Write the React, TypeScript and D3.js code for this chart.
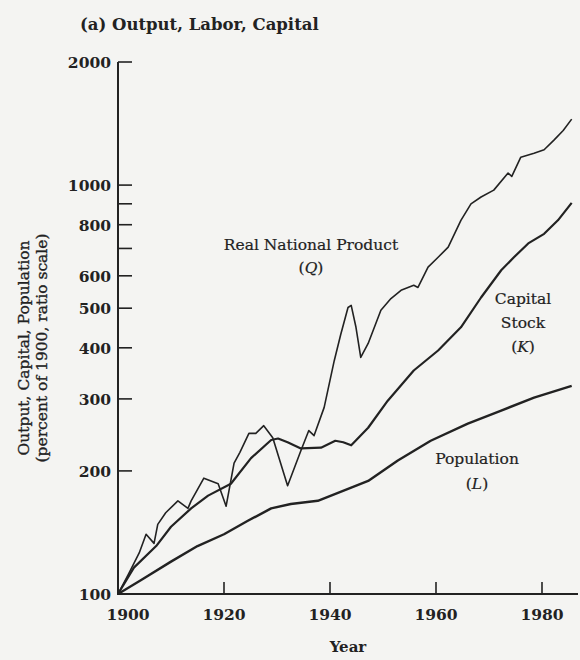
import * as d3 from "d3";
import { useEffect, useRef } from "react";

type Pt = [number, number];

// Real National Product (Q), percent of 1900
const qYears = [1900, 1902, 1904, 1905.3, 1906.8, 1907.5, 1909, 1911.3, 1913.2, 1913.8, 1916.2, 1918.9, 1920.4, 1921.9, 1923, 1924.7, 1926, 1927.5, 1929.2, 1932, 1934.5, 1936, 1937, 1938.9, 1940.8, 1942, 1943.4, 1944, 1944.9, 1945.8, 1947.2, 1949.6, 1951.5, 1953.4, 1955.8, 1956.6, 1958.5, 1960.4, 1962.3, 1964.7, 1966.6, 1968.5, 1970.9, 1973.6, 1974.3, 1976, 1978.5, 1980.4, 1982.3, 1984, 1985.6];
const qValues = [100, 112, 126, 140, 133, 148, 158, 169, 162, 169, 192, 186, 164, 209, 222, 247, 247, 258, 241, 184, 224, 251, 244, 286, 372, 430, 502, 508, 449, 379, 410, 494, 528, 553, 569, 562, 630, 666, 705, 820, 900, 935, 972, 1070, 1050, 1170, 1196, 1220, 1290, 1360, 1450];

// Capital Stock (K)
const kYears = [1900, 1903, 1907.2, 1910, 1913.8, 1917, 1921.3, 1925.1, 1928.9, 1930.2, 1932, 1934.5, 1938.3, 1941, 1942.5, 1944, 1947.2, 1950.9, 1955.8, 1960.4, 1964.7, 1968.5, 1972.3, 1974.7, 1977.4, 1980.4, 1983, 1985.6];
const kValues = [100, 116, 131, 146, 162, 174, 186, 215, 238, 240, 235, 227, 228, 237, 235, 231, 255, 297, 352, 394, 449, 531, 619, 666, 720, 760, 820, 905];

// Population (L)
const lYears = [1900, 1904.3, 1910, 1915, 1920, 1924.5, 1928.9, 1932.6, 1937.7, 1944, 1947.2, 1952.8, 1959, 1966, 1972.3, 1978.5, 1985.6];
const lValues = [100, 108, 120, 131, 140, 151, 162, 166, 169, 182, 189, 212, 237, 261, 281, 302, 323];

const yTickValues = [200, 300, 400, 500, 600, 700, 800, 900, 1000, 2000];
const yTickLabels = [100, 200, 300, 400, 500, 600, 800, 1000, 2000];
const xTickValues = [1920, 1940, 1960, 1980];
const xTickLabels = [1900, 1920, 1940, 1960, 1980];

const W = 580;
const H = 660;
const ink = "#222";
const serif = "'DejaVu Serif', 'Liberation Serif', serif";

const zip = (xs: number[], ys: number[]): Pt[] => xs.map((x, i) => [x, ys[i]]);

export default function App() {
  const ref = useRef<SVGSVGElement>(null);

  useEffect(() => {
    if (!ref.current) return;
    const svg = d3.select(ref.current);
    svg.selectAll("*").remove();

    const x = d3.scaleLinear().domain([1900, 1980]).range([118, 542]);
    const y = d3.scaleLog().domain([100, 2000]).range([594, 62]);

    svg.append("rect").attr("width", W).attr("height", H).attr("fill", "#f4f4f2");

    // title
    svg
      .append("text")
      .attr("x", 80)
      .attr("y", 30)
      .attr("font-family", serif)
      .attr("font-size", 16.5)
      .attr("font-weight", "bold")
      .attr("fill", ink)
      .text("(a)  Output, Labor, Capital");

    const axes = svg.append("g").attr("stroke", ink).attr("fill", "none");
    axes.append("line").attr("x1", 118).attr("x2", 118).attr("y1", y(2000)).attr("y2", 595).attr("stroke-width", 2);
    axes.append("line").attr("x1", 117).attr("x2", 578).attr("y1", 594).attr("y2", 594).attr("stroke-width", 2);

    // y ticks (inward)
    axes
      .selectAll(".yt")
      .data(yTickValues)
      .enter()
      .append("line")
      .attr("x1", 118)
      .attr("x2", 132)
      .attr("y1", (d) => y(d))
      .attr("y2", (d) => y(d))
      .attr("stroke-width", 1.6);

    svg
      .selectAll(".yl")
      .data(yTickLabels)
      .enter()
      .append("text")
      .attr("x", 111)
      .attr("y", (d) => y(d) + 6)
      .attr("text-anchor", "end")
      .attr("font-family", serif)
      .attr("font-size", 15.5)
      .attr("font-weight", "bold")
      .attr("fill", ink)
      .text((d) => d);

    // x ticks (inward)
    axes
      .selectAll(".xt")
      .data(xTickValues)
      .enter()
      .append("line")
      .attr("x1", (d) => x(d))
      .attr("x2", (d) => x(d))
      .attr("y1", 594)
      .attr("y2", 582)
      .attr("stroke-width", 1.6);

    svg
      .selectAll(".xl")
      .data(xTickLabels)
      .enter()
      .append("text")
      .attr("x", (d) => x(d) + (d === 1900 ? 10 : 0))
      .attr("y", 620)
      .attr("text-anchor", "middle")
      .attr("font-family", serif)
      .attr("font-size", 15.5)
      .attr("font-weight", "bold")
      .attr("fill", ink)
      .text((d) => d);

    svg
      .append("text")
      .attr("x", 348)
      .attr("y", 652)
      .attr("text-anchor", "middle")
      .attr("font-family", serif)
      .attr("font-size", 15)
      .attr("font-weight", "bold")
      .attr("fill", ink)
      .text("Year");

    const yTitle = svg
      .append("text")
      .attr("transform", "translate(29,348) rotate(-90)")
      .attr("text-anchor", "middle")
      .attr("font-family", serif)
      .attr("font-size", 15.5)
      .attr("fill", ink)
      .attr("stroke", ink)
      .attr("stroke-width", 0.35);
    yTitle.append("tspan").attr("x", 0).attr("y", 0).text("Output, Capital, Population");
    yTitle.append("tspan").attr("x", 0).attr("y", 18).text("(percent of 1900, ratio scale)");

    const line = d3
      .line<Pt>()
      .x((d) => x(d[0]))
      .y((d) => y(d[1]))
      .curve(d3.curveLinear);

    const series: { pts: Pt[]; w: number }[] = [
      { pts: zip(lYears, lValues), w: 2.4 },
      { pts: zip(kYears, kValues), w: 2.2 },
      { pts: zip(qYears, qValues), w: 1.6 },
    ];
    svg
      .selectAll(".series")
      .data(series)
      .enter()
      .append("path")
      .attr("d", (d) => line(d.pts))
      .attr("fill", "none")
      .attr("stroke", ink)
      .attr("stroke-width", (d) => d.w)
      .attr("stroke-linejoin", "round");

    const labels: { lines: string[]; x: number; y: number; gap: number }[] = [
      { lines: ["Real National Product", "(Q)"], x: 311, y: 250, gap: 23 },
      { lines: ["Capital", "Stock", "(K)"], x: 523, y: 304, gap: 24 },
      { lines: ["Population", "(L)"], x: 477, y: 464, gap: 25 },
    ];
    labels.forEach((l) => {
      const t = svg
        .append("text")
        .attr("text-anchor", "middle")
        .attr("font-family", serif)
        .attr("font-size", 15.5)
        .attr("fill", ink)
        .attr("stroke", ink)
        .attr("stroke-width", 0.2);
      l.lines.forEach((s, i) => {
        const ts = t.append("tspan").attr("x", l.x).attr("y", l.y + i * l.gap);
        const m = s.match(/^\((.)\)$/);
        if (m) {
          ts.append("tspan").text("(");
          ts.append("tspan").attr("font-style", "italic").text(m[1]);
          ts.append("tspan").text(")");
        } else {
          ts.text(s);
        }
      });
    });
  }, []);

  return (
    <svg
      ref={ref}
      width={W}
      height={H}
      style={{ position: "absolute", left: 0, top: 0, display: "block" }}
    />
  );
}
